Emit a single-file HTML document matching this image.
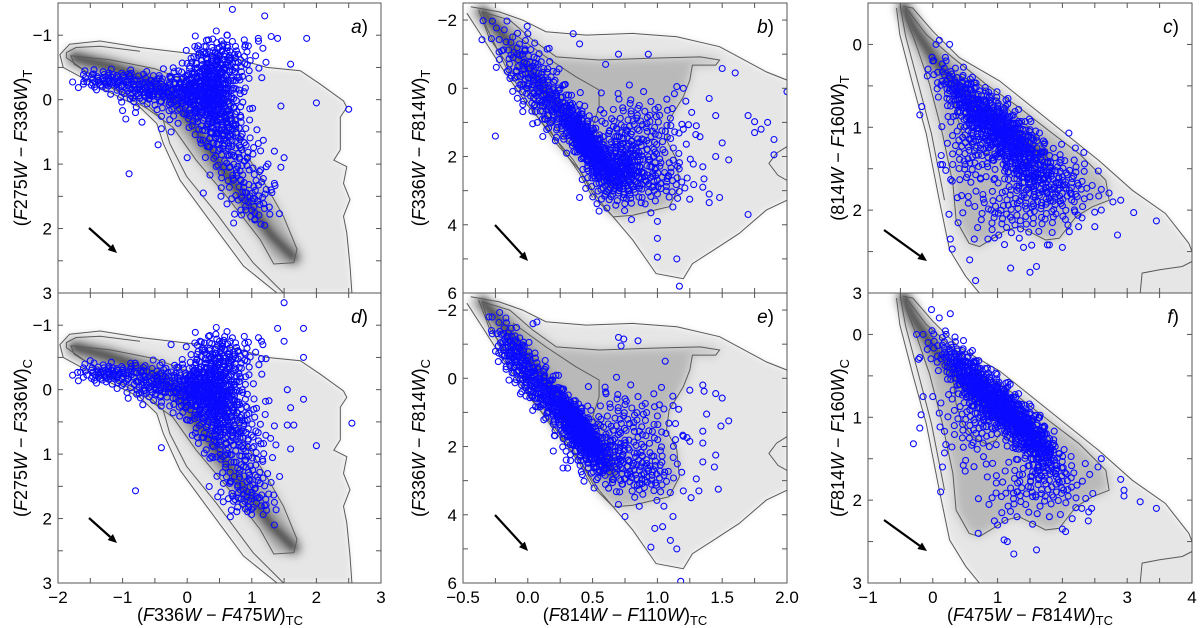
<!DOCTYPE html>
<html><head><meta charset="utf-8"><title>Two-colour diagrams</title>
<style>
html,body{margin:0;padding:0;background:#fff;}
svg{display:block;font-family:"Liberation Sans","DejaVu Sans",sans-serif;}
</style></head>
<body>
<svg id="fig" width="1200" height="628" viewBox="0 0 1200 628">
<defs>
<filter id="blur3" x="-20%" y="-20%" width="140%" height="140%"><feGaussianBlur stdDeviation="3"/></filter>
<filter id="blur5" x="-20%" y="-20%" width="140%" height="140%"><feGaussianBlur stdDeviation="5"/></filter>
</defs>
<g id="plots"></g>
<g font-size="18" fill="#000">
<text transform="translate(27,148) rotate(-90)" text-anchor="middle">(<tspan font-style="italic">F</tspan>275<tspan font-style="italic">W</tspan> − <tspan font-style="italic">F</tspan>336<tspan font-style="italic">W</tspan>)<tspan font-size="13" dy="5">T</tspan></text>
<text transform="translate(27,438) rotate(-90)" text-anchor="middle">(<tspan font-style="italic">F</tspan>275<tspan font-style="italic">W</tspan> − <tspan font-style="italic">F</tspan>336<tspan font-style="italic">W</tspan>)<tspan font-size="13" dy="5">C</tspan></text>
<text transform="translate(425,148) rotate(-90)" text-anchor="middle">(<tspan font-style="italic">F</tspan>336<tspan font-style="italic">W</tspan> − <tspan font-style="italic">F</tspan>814<tspan font-style="italic">W</tspan>)<tspan font-size="13" dy="5">T</tspan></text>
<text transform="translate(425,438) rotate(-90)" text-anchor="middle">(<tspan font-style="italic">F</tspan>336<tspan font-style="italic">W</tspan> − <tspan font-style="italic">F</tspan>814<tspan font-style="italic">W</tspan>)<tspan font-size="13" dy="5">C</tspan></text>
<text transform="translate(844,148) rotate(-90)" text-anchor="middle">(814<tspan font-style="italic">W</tspan> − <tspan font-style="italic">F</tspan>160<tspan font-style="italic">W</tspan>)<tspan font-size="13" dy="5">T</tspan></text>
<text transform="translate(844,438) rotate(-90)" text-anchor="middle">(<tspan font-style="italic">F</tspan>814<tspan font-style="italic">W</tspan> − <tspan font-style="italic">F</tspan>160<tspan font-style="italic">W</tspan>)<tspan font-size="13" dy="5">C</tspan></text>
<text x="220" y="621" text-anchor="middle">(<tspan font-style="italic">F</tspan>336<tspan font-style="italic">W</tspan> − <tspan font-style="italic">F</tspan>475<tspan font-style="italic">W</tspan>)<tspan font-size="13" dy="4">TC</tspan></text>
<text x="625" y="621" text-anchor="middle">(<tspan font-style="italic">F</tspan>814<tspan font-style="italic">W</tspan> − <tspan font-style="italic">F</tspan>110<tspan font-style="italic">W</tspan>)<tspan font-size="13" dy="4">TC</tspan></text>
<text x="1030" y="621" text-anchor="middle">(<tspan font-style="italic">F</tspan>475<tspan font-style="italic">W</tspan> − <tspan font-style="italic">F</tspan>814<tspan font-style="italic">W</tspan>)<tspan font-size="13" dy="4">TC</tspan></text>
</g>
</svg>
<script>
// ---------- column 1 background ----------
const col1Outer = [[1.39,3.0],[0.87,2.58],[0.3,1.81],[-0.11,1.25],[-0.37,0.68],[-0.47,0.37],[-0.73,0.12],[-1.35,-0.19],[-1.92,-0.5],[-1.97,-0.7],[-1.82,-0.86],[-1.35,-0.91],[-0.73,-0.81],[0.2,-0.7],[0.71,-0.65],[1.23,-0.5],[1.75,-0.45],[2.06,-0.24],[2.42,0.02],[2.47,0.12],[2.37,0.27],[2.37,0.78],[2.27,0.94],[2.47,1.04],[2.42,1.3],[2.52,1.55],[2.42,1.81],[2.47,2.07],[2.52,2.58],[2.55,3.0]];
const col1Second = [[-0.73,-0.75],[-1.35,-0.83],[-1.72,-0.81],[-1.87,-0.73],[-1.87,-0.65],[-1.35,-0.29],[-0.63,0.07],[-0.37,0.32],[-0.27,0.68],[-0.01,1.19],[0.45,1.76],[1.02,2.53],[1.49,3.0]];
const col1Band = [[-1.8,-0.68],[-1.2,-0.62],[-0.5,-0.48],[0.1,-0.25],[0.66,0.02],[0.87,0.78],[1.23,1.35],[1.49,1.81],[1.7,2.32],[1.65,2.53],[1.34,2.55],[1.13,2.17],[0.61,1.5],[0.14,0.94],[-0.22,0.43],[-0.6,0.15],[-1.2,-0.2],[-1.75,-0.55]];
const col1Inner = [[-0.48,-0.29],[-0.01,-0.04],[0.3,0.32],[0.35,0.68],[0.51,0.99],[0.71,1.35],[0.97,1.89]];
const col1Ridge = [[-1.75,-0.66],[-1.2,-0.52],[-0.6,-0.3],[-0.15,0.05],[0.15,0.5],[0.5,1.0],[0.9,1.55],[1.3,2.1],[1.65,2.45]];
// ---------- column 2 background ----------
const col2Outer = [[-0.44,-2.39],[-0.22,-2.24],[-0.04,-2.0],[0.14,-1.66],[0.45,-1.56],[0.81,-1.61],[1.15,-1.51],[1.48,-1.22],[1.84,-0.48],[2.0,-0.24],[2.0,3.28],[1.84,3.57],[1.63,4.26],[1.43,4.75],[1.27,5.14],[1.2,5.58],[0.99,5.43],[0.81,4.45],[0.55,3.28],[0.35,2.1],[0.0,0.5],[-0.2,-0.6],[-0.35,-1.5],[-0.47,-2.2]];
const col2Second = [[-0.38,-2.3],[-0.3,-1.5],[-0.12,-0.5],[0.05,0.4],[0.2,1.4],[0.4,2.5],[0.5,3.2]];
const col2Mid = [[-0.35,-2.24],[-0.14,-2.0],[0.04,-1.41],[0.22,-0.92],[0.55,-0.83],[0.94,-0.88],[1.33,-0.92],[1.48,-0.83],[1.45,-0.68],[1.27,-0.68],[1.25,-0.24],[1.2,0.25],[1.09,0.93],[1.07,1.52],[1.15,2.1],[1.17,2.89],[1.09,3.47],[0.81,3.72],[0.66,3.77],[0.53,3.28],[0.4,2.4],[0.22,1.62],[0.04,0.64],[-0.17,-0.63],[-0.32,-1.8]];
const col2Inner = [[-0.11,-1.61],[0.14,-0.92],[0.37,-0.34],[0.55,0.05],[0.55,0.54],[0.5,1.13],[0.61,1.62],[0.63,2.0],[0.55,2.2],[0.4,1.91],[0.25,1.32],[0.12,0.64],[-0.04,-0.24],[-0.14,-1.12]];
const col2Blob = [[2.0,1.71],[1.92,1.9],[1.86,2.2],[1.93,2.55],[2.0,2.7]];
const col2Ridge = [[-0.35,-2.25],[-0.2,-1.6],[0.0,-0.6],[0.2,0.4],[0.4,1.3],[0.55,2.0],[0.65,2.8]];
// ---------- column 3 background ----------
const col3Outer = [[-0.46,-0.46],[-0.31,-0.44],[0.0,-0.16],[0.41,0.16],[1.03,0.44],[1.54,0.76],[2.05,1.08],[2.56,1.4],[3.08,1.76],[3.59,2.04],[3.95,2.4],[4.05,2.6],[4.05,3.05],[0.77,3.05],[0.51,2.8],[0.26,2.48],[0.1,1.88],[-0.1,1.08],[-0.31,0.48],[-0.51,-0.12],[-0.56,-0.44]];
const col3Second = [[-0.5,-0.45],[-0.42,-0.1],[-0.22,0.48],[-0.02,1.08],[0.18,1.88]];
const col3Mid = [[-0.41,-0.44],[-0.1,-0.12],[0.31,0.16],[0.82,0.48],[1.33,0.76],[1.79,1.04],[2.26,1.32],[2.67,1.64],[2.72,1.88],[2.46,1.96],[2.21,2.08],[2.05,2.24],[1.95,2.34],[1.74,2.36],[1.54,2.28],[1.33,2.2],[1.13,2.24],[0.97,2.32],[0.72,2.44],[0.56,2.4],[0.36,2.12],[0.31,1.68],[0.15,1.08],[-0.05,0.48],[-0.26,0.0],[-0.41,-0.32]];
const col3Inner = [[0.36,0.36],[0.72,0.48],[1.13,0.76],[1.54,1.04],[1.74,1.28],[1.74,1.48],[1.54,1.48],[1.28,1.32],[1.03,1.2],[0.97,1.28],[0.82,1.32],[0.62,1.24],[0.46,1.08],[0.36,0.84],[0.31,0.52]];
const col3Corner = [[3.2,3.0],[3.23,2.76],[3.5,2.72],[3.85,2.68],[4.0,2.62]];
const col3Ridge = [[-0.45,-0.45],[-0.3,-0.2],[0.0,0.15],[0.3,0.45],[0.7,0.75],[1.2,1.05],[1.7,1.35]];

// ---------- blue star samples: clumps [cx, cy, sx, sy, slope, n] and individual stars [x, y] ----------
const aClumps = [[-1.2,-0.3,0.25,0.08,0,70],[-0.6,-0.15,0.25,0.12,0,100],[0.0,-0.1,0.25,0.2,0,150],[0.4,-0.1,0.2,0.35,0,320],[0.55,-0.6,0.3,0.2,0,100],[0.6,0.5,0.2,0.3,0,100],[0.8,1.0,0.2,0.25,0,50],[1.0,1.55,0.2,0.2,0,50]];
const aStars = [[-1.6,-0.28],[-1.45,-0.4],[-1.0,0.17],[-0.95,0.3],[-0.8,0.2],[-0.7,0.35],[-0.9,1.15],[-0.45,0.7],[-0.4,0.45],[-0.25,0.5],[0.7,-1.4],[0.62,-1.0],[1.2,-1.3],[1.1,-0.95],[1.4,-0.95],[1.3,-0.98],[1.85,-0.95],[1.6,-0.55],[1.45,0.1],[2.0,0.05],[2.5,0.15],[1.1,0.68],[1.35,0.8],[1.5,0.9],[1.45,1.05],[1.25,1.0],[0.0,0.9],[0.25,1.45],[1.2,1.95],[1.3,1.4],[1.35,1.3],[1.05,1.85],[0.9,-0.85],[0.75,-0.65]];
const dClumps = [[-1.2,-0.25,0.25,0.08,0,80],[-0.5,-0.1,0.25,0.15,0,110],[0.1,0.0,0.2,0.2,0,150],[0.45,0.1,0.2,0.4,0,320],[0.55,-0.5,0.3,0.2,0,100],[0.75,0.6,0.25,0.35,0,120],[0.9,1.3,0.25,0.3,0,70],[0.95,1.7,0.2,0.15,0,35]];
const dStars = [[1.5,-1.35],[1.4,-0.95],[1.8,-0.95],[1.5,-0.75],[1.8,-0.5],[1.55,0.0],[1.8,0.15],[1.6,0.28],[1.55,0.55],[1.65,0.55],[2.0,0.87],[2.55,0.52],[1.6,0.92],[-0.8,1.57],[-0.4,0.9],[1.35,2.1],[1.2,1.8],[1.35,1.75],[0.9,1.85],[-0.25,-0.7],[0.2,-0.75],[0.5,-0.75],[1.15,-0.75],[1.15,-0.48],[0.9,-0.55],[-1.65,-0.27],[-1.5,-0.45]];
const bClumps = [[0.45,1.6,0.08,0.3,4.5,280],[0.7,2.4,0.12,0.5,0,250],[0.2,0.5,0.15,0.5,3,180],[0.0,-0.6,0.15,0.5,3,90],[0.85,1.3,0.2,0.6,0,140],[1.0,2.7,0.15,0.4,0,70]];
const bStars = [[-0.2,-1.1],[-0.1,-0.3],[-0.25,1.4],[0.0,-1.6],[0.35,-1.6],[0.4,-1.3],[0.15,-1.15],[0.6,-0.7],[0.7,-1.0],[0.93,-1.0],[1.5,-0.58],[1.6,-0.45],[1.2,0.0],[1.15,-0.05],[1.4,0.3],[1.45,0.8],[1.7,0.8],[1.75,0.98],[1.8,1.2],[1.85,1.0],[1.75,1.3],[1.9,1.5],[1.9,1.95],[2.0,0.1],[1.5,1.6],[1.45,2.0],[1.55,2.1],[1.35,2.3],[1.35,2.9],[1.4,3.1],[1.48,3.2],[1.4,3.35],[1.7,3.7],[1.0,3.9],[1.0,4.4],[1.0,4.95],[1.15,5.0],[1.17,5.8],[0.4,3.2],[0.55,3.6],[0.8,3.85],[0.6,3.1],[1.2,1.2],[1.3,1.1]];
const eClumps = [[0.4,1.5,0.09,0.3,4.5,320],[0.15,0.5,0.15,0.4,4,240],[-0.1,-0.7,0.08,0.4,4,100],[0.55,2.3,0.15,0.4,1,120],[0.75,1.6,0.2,0.7,0,140],[0.9,2.8,0.12,0.4,0,70]];
const eStars = [[-0.3,-1.8],[-0.28,-1.4],[-0.18,-0.65],[0.04,-1.6],[0.07,-1.65],[0.7,-1.2],[0.74,-1.15],[0.85,-1.1],[0.72,-0.95],[1.06,-0.5],[0.75,0.6],[0.6,0.4],[1.05,0.9],[1.12,0.8],[1.2,1.7],[1.14,1.8],[1.25,1.85],[1.25,0.35],[1.35,0.2],[1.36,0.38],[1.45,0.45],[1.5,0.58],[1.38,1.05],[1.55,1.25],[1.49,1.4],[1.35,1.55],[1.35,1.9],[1.45,2.25],[1.44,2.6],[1.35,2.45],[1.3,2.95],[1.32,3.3],[1.26,3.5],[1.47,3.25],[1.2,3.3],[1.05,3.75],[1.12,4.05],[0.98,4.4],[1.04,4.35],[0.95,4.95],[1.1,4.75],[1.15,5.0],[0.75,4.05],[0.7,3.7],[1.18,5.95]];
const cClumps = [[1.1,1.05,0.3,0.18,0.55,340],[0.5,0.65,0.25,0.15,0.6,150],[1.5,1.55,0.35,0.2,0.5,180],[0.6,1.2,0.2,0.3,0,90],[1.3,2.0,0.4,0.2,0,90],[2.0,1.6,0.3,0.2,0.3,70]];
const cStars = [[-0.17,0.75],[-0.2,0.85],[0.05,0.0],[0.1,-0.05],[0.26,0.0],[0.0,0.2],[0.15,1.45],[0.12,1.45],[0.2,1.52],[0.25,2.05],[0.27,2.35],[0.3,2.47],[0.57,2.6],[0.66,2.85],[0.3,1.65],[0.38,1.85],[2.78,1.9],[2.9,1.88],[3.1,2.03],[3.45,2.13],[2.85,2.3],[2.6,2.0],[2.6,1.75],[2.5,2.2],[2.25,2.2],[1.2,2.7],[1.5,2.75],[1.6,2.68],[1.8,2.42],[2.0,2.45],[1.4,2.45],[0.85,2.35],[0.5,1.45],[0.9,2.0],[2.1,1.07],[2.2,1.25]];
const fClumps = [[1.1,0.9,0.3,0.15,0.62,400],[0.5,0.45,0.25,0.15,0.6,180],[1.6,1.3,0.2,0.15,0.6,140],[0.7,1.0,0.25,0.25,0,90],[1.8,1.7,0.3,0.2,0.3,90],[1.3,1.9,0.3,0.2,0,45]];
const fStars = [[-0.25,0.0],[-0.15,0.0],[-0.02,-0.3],[0.27,-0.25],[0.1,-0.2],[-0.2,0.28],[-0.22,0.3],[-0.15,0.75],[-0.18,0.97],[-0.2,1.13],[-0.3,1.32],[0.0,0.75],[0.1,0.95],[0.18,1.17],[0.2,1.33],[0.18,1.43],[0.15,1.6],[0.12,1.9],[0.47,1.58],[0.5,1.65],[0.7,2.4],[0.95,2.25],[1.0,2.3],[1.1,2.48],[1.15,2.5],[1.25,2.65],[1.6,2.6],[1.3,2.2],[1.8,2.2],[2.0,2.35],[2.05,2.38],[2.3,2.1],[2.45,2.1],[2.6,1.5],[2.55,1.6],[2.9,1.75],[2.95,1.88],[2.95,1.95],[3.2,2.02],[3.45,2.1],[2.4,2.25]];

// ---------- axes ----------
const col1XTicks = [-2,-1,0,1,2,3];
const col2XTicks = [-0.5,0.0,0.5,1.0,1.5,2.0];
const col3XTicks = [-1,0,1,2,3,4];
const col1YTicks = [-1,0,1,2,3];
const col2YTicks = [-2,0,2,4,6];
const col3YTicks = [0,1,2,3];
const panelLetters = ["a","b","c","d","e","f"];

const NS = "http://www.w3.org/2000/svg";
const root = document.getElementById("plots");
function mk(tag, attrs, parent){ const e=document.createElementNS(NS,tag); for(const k in attrs) e.setAttribute(k,attrs[k]); (parent||root).appendChild(e); return e; }

const colPx = [[58,381],[463,787],[868,1192]];
const rowPx = [[3,293],[293,583]];
const colDom = [[-2,3,-1.5,3],[-0.5,2,-2.5,6],[-1,4,-0.5,3]];
const bgSets = [
 {outer:col1Outer, second:col1Second, mid:col1Band, inner:col1Inner, ridge:col1Ridge, extra:null, innerClosed:false},
 {outer:col2Outer, second:col2Second, mid:col2Mid, inner:col2Inner, ridge:col2Ridge, extra:col2Blob, innerClosed:true},
 {outer:col3Outer, second:col3Second, mid:col3Mid, inner:col3Inner, ridge:col3Ridge, extra:col3Corner, innerClosed:true}
];
const clumpSets = [aClumps,bClumps,cClumps,dClumps,eClumps,fClumps];
const starSets = [aStars,bStars,cStars,dStars,eStars,fStars];
const xTickSets=[col1XTicks,col2XTicks,col3XTicks];
const yTickSets=[col1YTicks,col2YTicks,col3YTicks];
const minorX=[0.5,0.25,0.5], minorY=[0.5,1,0.5];

function frac(v){return v-Math.floor(v);}

for(let r=0;r<2;r++){
 for(let c=0;c<3;c++){
  const idx=r*3+c;
  const [px0,px1]=colPx[c], [py0,py1]=rowPx[r], [x0,x1,y0,y1]=colDom[c];
  const sx=v=>px0+(v-x0)/(x1-x0)*(px1-px0);
  const sy=v=>py0+(v-y0)/(y1-y0)*(py1-py0);
  const g=mk("g",{});
  
  
  const cid="clip"+idx;
  const cp=mk("clipPath",{id:cid},g); mk("rect",{x:px0,y:py0,width:px1-px0,height:py1-py0},cp);
  const pg=mk("g",{"clip-path":"url(#"+cid+")"},g);
  const toPts=arr=>arr.map(p=>sx(p[0]).toFixed(1)+","+sy(p[1]).toFixed(1)).join(" ");
  const bg=bgSets[c];
  const cloud=mk("polygon",{points:toPts(bg.outer),fill:"#e6e6e6",filter:"url(#blur3)"},pg);
  
  
  const midF=mk("polygon",{points:toPts(bg.mid),fill:"#b9b9b9",filter:"url(#blur5)"},pg);
  
  
  const rid=mk("polyline",{points:toPts(bg.ridge),fill:"none",stroke:"#7a7a7a","stroke-width":14,"stroke-linecap":"round","stroke-linejoin":"round",filter:"url(#blur5)"},pg);
  
  
  const rid2=mk("polyline",{points:toPts(bg.ridge),fill:"none",stroke:"#4a4a4a","stroke-width":5,"stroke-linecap":"round","stroke-linejoin":"round",filter:"url(#blur3)"},pg);
  
  
  const cs={fill:"none",stroke:"#5a5a5a","stroke-width":1};
  const c1=mk("polyline",Object.assign({points:toPts(bg.outer)},cs),pg);
  
  
  const c2=mk("polyline",Object.assign({points:toPts(bg.second)},cs),pg);
  
  
  const c3=mk("polygon",Object.assign({points:toPts(bg.mid)},cs),pg);
  
  
  const c4=mk(bg.innerClosed?"polygon":"polyline",Object.assign({points:toPts(bg.inner)},cs),pg);
  
  
  if(bg.extra){
   const c5=mk("polyline",Object.assign({points:toPts(bg.extra)},cs),pg);
   
   
  }
  const sg=mk("g",{fill:"none",stroke:"#0a0aff","stroke-width":1.1},pg);
  
  
  clumpSets[idx].forEach((cl,k)=>{
   const [cx,cy,ssx,ssy,slope,n]=cl;
   for(let j=0;j<n;j++){
    const u1=Math.max(0.02,frac(0.5+(j+1)*0.7548776662+k*0.31));
    const u2=frac(0.5+(j+1)*0.5698402910+k*0.17);
    let rr=Math.sqrt(-2*Math.log(u1)); if(rr>2.4) rr=2.4;
    const g1=rr*Math.cos(2*Math.PI*u2), g2=rr*Math.sin(2*Math.PI*u2);
    const xv=cx+ssx*g1, yv=cy+ssy*g2+slope*ssx*g1;
    const ci=mk("circle",{cx:sx(xv).toFixed(1),cy:sy(yv).toFixed(1),r:3},sg);
    
    
   }
  });
  starSets[idx].forEach(p=>{
   const ci=mk("circle",{cx:sx(p[0]).toFixed(1),cy:sy(p[1]).toFixed(1),r:3},sg);
   
   
  });
  const ar=[[89,228,117,253],[495,225,528,261],[884,230,927,261]][c];
  const ay=r*290;
  const arrow=mk("g",{},g);
  
  
  const ang=Math.atan2(ar[3]-ar[1],ar[2]-ar[0]);
  const hx=ar[2], hy=ar[3]+ay, hl=9, hw=4;
  const bx=hx-hl*Math.cos(ang), by=hy-hl*Math.sin(ang);
  mk("line",{x1:ar[0],y1:ar[1]+ay,x2:bx,y2:by,stroke:"#000","stroke-width":2.2},arrow);
  mk("polygon",{points:`${hx},${hy} ${bx+hw*Math.sin(ang)},${by-hw*Math.cos(ang)} ${bx-hw*Math.sin(ang)},${by+hw*Math.cos(ang)}`,fill:"#000"},arrow);
  const fr=mk("rect",{x:px0,y:py0,width:px1-px0,height:py1-py0,fill:"none",stroke:"#555","stroke-width":1},g);
  
  
  const tg=mk("g",{stroke:"#555","stroke-width":1},g);
  
  
  for(let v=x0+minorX[c];v<x1-1e-6;v+=minorX[c]){
   const X=sx(v);
   mk("line",{x1:X,y1:py1,x2:X,y2:py1-5},tg); mk("line",{x1:X,y1:py0,x2:X,y2:py0+5},tg);
  }
  for(let v=Math.ceil(y0/minorY[c])*minorY[c];v<=y1+1e-6;v+=minorY[c]){
   const Y=sy(v); if(Y<=py0+0.5||Y>=py1-0.5) continue;
   mk("line",{x1:px0,y1:Y,x2:px0+5,y2:Y},tg); mk("line",{x1:px1,y1:Y,x2:px1-5,y2:Y},tg);
  }
  yTickSets[c].forEach(v=>{
   const t=mk("text",{x:px0-6,y:sy(v)+6,"text-anchor":"end","font-size":17,fill:"#000"},g);
   t.textContent=(v<0?"\u2212":"")+Math.abs(v);
   
   
  });
  if(r===1){
   xTickSets[c].forEach(v=>{
    const t=mk("text",{x:sx(v),y:603,"text-anchor":"middle","font-size":17,fill:"#000"},g);
    t.textContent=(v<0?"\u2212":"")+(c===1?Math.abs(v).toFixed(1):Math.abs(v));
    
    
   });
  }
  const pl=mk("text",{x:px1-13,y:py0+30,"text-anchor":"end","font-size":19,fill:"#000"},g);
  pl.innerHTML='<tspan font-style="italic">'+panelLetters[idx]+'</tspan>)';
  
  
 }
}
</script>
</body></html>
